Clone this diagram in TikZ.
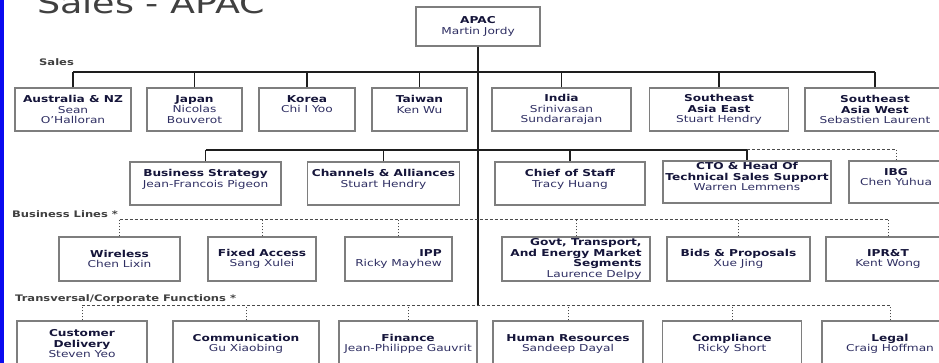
\documentclass[tikz,border=0pt]{standalone}
\usepackage{fontspec}
\setmainfont{DejaVu Sans}[FakeStretch=1.28]
\usepackage{xcolor}
\usepackage{tikz}
\usetikzlibrary{calc}
\definecolor{Head}{HTML}{15153A}
\definecolor{Person}{HTML}{2E2E62}
\definecolor{BoxGray}{HTML}{7E7E7E}
\definecolor{TitleGray}{HTML}{404040}
\definecolor{Bar}{HTML}{0A0AF0}
\definecolor{Ink}{HTML}{1E1E1E}
\definecolor{DashGray}{HTML}{4A4A4A}
\newcommand{\hd}[1]{{\bfseries\color{Head}#1}}

\begin{document}
\begin{tikzpicture}[
  x=1pt, y=-1pt,
  unit/.style={draw=BoxGray, line width=1.3pt, fill=white, align=center, inner sep=1pt,
    text=Person, font=\fontsize{9.5}{10.5}\selectfont},
  link/.style={draw=Ink, line width=1.1pt},
  dotline/.style={draw=DashGray, line width=1pt, dash pattern=on 3pt off 2pt},
  drop/.style={draw=DashGray, line width=1pt, dash pattern=on 1.5pt off 1.5pt},
  section/.style={anchor=base west, inner sep=0pt, text=TitleGray,
    font=\fontsize{9}{10}\selectfont\bfseries}
]
\useasboundingbox (0,0) rectangle (939,363);
\clip (0,0) rectangle (939,363);
\fill[Bar] (0,0) rectangle (3.5,363);
\node[anchor=base west, inner sep=0pt, text=TitleGray, font=\fontsize{28.5}{30}\selectfont]
  (title) at (37,14) {Sales - APAC};

% Head of the region.
\node[unit, minimum width=124, minimum height=39] (apac) at (478,26.5)
  {\hd{APAC}\\Martin Jordy};

% Sales countries.
\node[section] (saleslbl) at (39,65.5) {Sales};
\coordinate (salesbus) at (0,72);
\node[unit, minimum width=116, minimum height=43] (aus) at (73,109.5)
  {\hd{Australia \& NZ}\\Sean\\O'Halloran};
\node[unit, minimum width=95, minimum height=43] (japan) at (194.5,109.5)
  {\hd{Japan}\\Nicolas\\Bouverot};
\node[unit, minimum width=96, minimum height=43] (korea) at (307,109.5)
  {\hd{Korea}\\Chi I Yoo\\~};
\node[unit, minimum width=95, minimum height=43] (taiwan) at (419.5,109.5)
  {\hd{Taiwan}\\Ken Wu\\~};
\node[unit, minimum width=139, minimum height=43] (india) at (561.5,109.5)
  {\hd{India}\\Srinivasan\\Sundararajan};
\node[unit, minimum width=139, minimum height=43] (seeast) at (719,109.5)
  {\hd{Southeast}\\\hd{Asia East}\\Stuart Hendry};
\node[unit, minimum width=140, minimum height=43] (sewest) at (875,109.5)
  {\hd{Southeast}\\\hd{Asia West}\\Sebastien Laurent};

% Staff functions.
\coordinate (staffbus) at (0,150);
\node[unit, minimum width=151, minimum height=43] (bstrat) at (205.5,183.5)
  {\hd{Business Strategy}\\Jean-Francois Pigeon\\~};
\node[unit, minimum width=152, minimum height=43] (channels) at (383.5,183.5)
  {\hd{Channels \& Alliances}\\Stuart Hendry\\~};
\node[unit, minimum width=150, minimum height=43] (chief) at (570,183.5)
  {\hd{Chief of Staff}\\Tracy Huang\\~};
\node[unit, minimum width=168, minimum height=42] (cto) at (747,182)
  {\hd{CTO \& Head Of}\\\hd{Technical Sales Support}\\Warren Lemmens\\~};
\node[unit, minimum width=94, minimum height=42] (ibg) at (896,182)
  {\hd{IBG}\\Chen Yuhua\\~};

% Business lines.
\node[section] (bllbl) at (12,217.5) {Business Lines *};
\coordinate (blbus) at (0,219.3);
\node[unit, minimum width=121, minimum height=44] (wireless) at (119.5,259)
  {\hd{Wireless}\\Chen Lixin};
\node[unit, minimum width=108, minimum height=44] (fixed) at (262,259)
  {\hd{Fixed Access}\\Sang Xulei};
\node[unit, minimum width=107, minimum height=44, align=right] (ipp) at (398.5,259)
  {\hd{IPP}\\Ricky Mayhew};
\node[unit, minimum width=148, minimum height=44, align=right, inner sep=.5pt] (govt) at (576,259)
  {\hd{Govt, Transport,}\\\hd{And Energy Market}\\\hd{Segments}\\Laurence Delpy};
\node[unit, minimum width=143, minimum height=44] (bids) at (738.5,259)
  {\hd{Bids \& Proposals}\\Xue Jing};
\node[unit, minimum width=124, minimum height=44] (iprt) at (888,259)
  {\hd{IPR\&T}\\Kent Wong};

% Transversal functions.
\node[section] (tflbl) at (15,301) {Transversal/Corporate Functions *};
\coordinate (tfbus) at (0,305.7);
\node[unit, minimum width=130, minimum height=46] (custdel) at (82,344)
  {\hd{Customer}\\\hd{Delivery}\\Steven Yeo};
\node[unit, minimum width=146, minimum height=46] (comm) at (246,344)
  {\hd{Communication}\\Gu Xiaobing};
\node[unit, minimum width=138, minimum height=46] (finance) at (408,344)
  {\hd{Finance}\\Jean-Philippe Gauvrit};
\node[unit, minimum width=150, minimum height=46] (hr) at (568,344)
  {\hd{Human Resources}\\Sandeep Dayal};
\node[unit, minimum width=139, minimum height=46] (compliance) at (732,344)
  {\hd{Compliance}\\Ricky Short};
\node[unit, minimum width=136, minimum height=46] (legal) at (890,344)
  {\hd{Legal}\\Craig Hoffman};

% Reporting lines.
\draw[link] (apac.south) -- (apac.south |- tfbus);
\draw[link] (aus.north |- salesbus) -- (sewest.north |- salesbus);
\foreach \n in {aus,japan,korea,taiwan,india,seeast,sewest}
  \draw[link] (\n.north) -- (\n.north |- salesbus);
\draw[link] (bstrat.north |- staffbus) -- (cto.north |- staffbus);
\foreach \n in {bstrat,channels,chief,cto}
  \draw[link] (\n.north) -- (\n.north |- staffbus);
\draw[dotline] (cto.north |- staffbus) -- (ibg.north |- staffbus);
\draw[drop] (ibg.north |- staffbus) -- (ibg.north);

\draw[dotline] (wireless.north |- blbus) -- (iprt.north |- blbus);
\foreach \n in {wireless,fixed,ipp,govt,bids,iprt}
  \draw[drop] (\n.north) -- (\n.north |- blbus);
\draw[dotline] (custdel.north |- tfbus) -- (legal.north |- tfbus);
\foreach \n in {custdel,comm,finance,hr,compliance,legal}
  \draw[drop] (\n.north) -- (\n.north |- tfbus);
\end{tikzpicture}
\end{document}
